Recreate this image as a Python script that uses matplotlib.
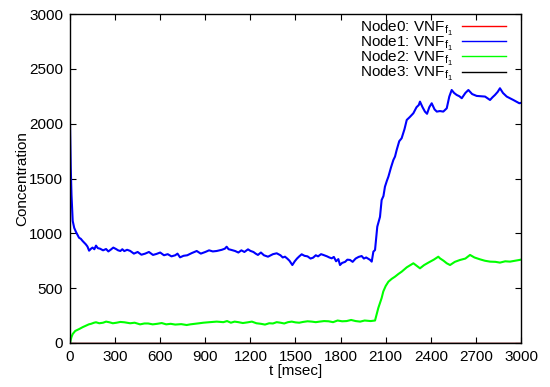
import matplotlib
matplotlib.use("Agg")
import matplotlib.pyplot as plt

plt.rcParams['font.family'] = ['Liberation Sans', 'DejaVu Sans']
plt.rcParams['mathtext.fontset'] = 'custom'
plt.rcParams['mathtext.rm'] = 'Liberation Sans'
plt.rcParams['mathtext.it'] = 'Liberation Sans'

labels = ["Node0: VNF$_{\\mathrm{f}_1}$", "Node1: VNF$_{\\mathrm{f}_1}$",
          "Node2: VNF$_{\\mathrm{f}_1}$", "Node3: VNF$_{\\mathrm{f}_1}$"]
colors = ["#ff0000", "#0000ff", "#00ff00", "#000000"]

t_blue = [0, 5, 10, 18, 28, 40, 50, 60, 72, 84, 95, 105, 116, 127, 140, 150, 162, 173, 185, 200, 220,
          240, 255, 270, 288, 306, 320, 335, 348, 361,
          380, 400, 425, 450, 475, 500, 525, 552, 575, 600, 625, 650, 675, 700, 715, 732, 755, 780,
          810, 843, 870, 900, 925, 950, 976, 1010, 1030, 1042, 1055, 1070,
          1098, 1120, 1140, 1160, 1184, 1200, 1220, 1235, 1250, 1270, 1290, 1317, 1335, 1350, 1375, 1400,
          1415, 1430, 1445, 1460, 1479, 1495, 1510,
          1525, 1541, 1560, 1580, 1600, 1617, 1635, 1650, 1670, 1685, 1710, 1725, 1741, 1755, 1770, 1785,
          1796, 1810, 1830, 1845, 1863, 1880, 1900, 1920, 1940, 1955, 1970,
          1996, 2007, 2018, 2029, 2044, 2062, 2073, 2085, 2095, 2108, 2118, 2135, 2151, 2162, 2173, 2190,
          2206, 2225, 2240, 2260, 2284, 2305, 2320, 2328, 2345, 2361, 2375, 2390, 2406, 2425, 2440, 2461,
          2483, 2506, 2523, 2539, 2555, 2572, 2590, 2606, 2630, 2650, 2675, 2705, 2730, 2761,
          2794, 2810, 2827, 2845, 2860, 2880, 2905, 2930, 2949, 2970, 2989, 3000]
v_blue = [2000, 1600, 1350, 1113, 1050, 1012, 985, 960, 950, 930, 915, 900, 880, 842, 860, 870, 855, 888,
          865, 860, 845, 857, 835, 850, 870, 857, 845, 839, 855, 838,
          850, 840, 815, 830, 805, 815, 830, 803, 812, 825, 800, 810, 790, 800, 815, 781, 795, 800,
          820, 839, 815, 830, 845, 835, 839, 850, 860, 878, 855, 850,
          839, 825, 845, 830, 854, 840, 830, 815, 803, 825, 800, 787, 800, 810, 818, 800,
          780, 787, 770, 750, 711, 745, 770,
          790, 809, 795, 790, 770, 778, 800, 790, 810, 803, 790, 780, 772, 785, 745, 765,
          711, 730, 740, 760, 757, 740, 770, 785, 793, 770, 780,
          758, 742, 833, 848, 1061, 1150, 1304, 1340, 1425, 1480, 1517, 1600, 1669, 1700, 1760, 1840,
          1867, 1950, 2034, 2060, 2095, 2150, 2170, 2201, 2150, 2110, 2090, 2150, 2186, 2130, 2110, 2115,
          2110, 2140, 2247, 2307, 2280, 2262, 2250, 2232, 2280, 2307, 2270, 2253, 2250, 2247,
          2216, 2240, 2262, 2290, 2323, 2280, 2247, 2230, 2216, 2200, 2186, 2190]

t_green = [0, 5, 10, 18, 35, 62, 85, 106, 125, 140, 160, 173, 195, 220, 240, 262, 285, 310, 335, 361,
           400, 430, 466, 495, 520, 550, 580, 610, 640, 670, 700,
           740, 776, 800, 830, 860, 887, 930, 976, 1020, 1045, 1070, 1095, 1120, 1150, 1180, 1210, 1240,
           1270, 1297, 1325, 1350, 1375, 1400, 1425, 1450, 1475, 1500, 1525, 1550, 1580,
           1608, 1635, 1660, 1690, 1720, 1750, 1780, 1810, 1840, 1870, 1900, 1930, 1960, 2000, 2029,
           2051, 2073, 2084, 2100, 2118, 2140,
           2162, 2185, 2206, 2240, 2284, 2310, 2328, 2355, 2384, 2420, 2450, 2461, 2485, 2506, 2528,
           2560, 2594, 2630, 2661, 2690, 2727, 2760, 2794, 2830, 2860, 2895, 2927, 2960, 2989, 3000]
v_green = [0, 30, 55, 82, 110, 128, 145, 158, 170, 175, 185, 189, 180, 185, 195, 189, 180, 185, 192, 189,
           180, 185, 170, 178, 178, 170, 175, 182, 170, 175, 168,
           172, 164, 170, 175, 180, 185, 190, 195, 190, 200, 185, 195, 190, 182, 188, 195, 180,
           175, 168, 180, 178, 190, 185, 178, 190, 195, 188, 185, 192, 198,
           195, 190, 195, 200, 198, 190, 205, 198, 200, 210, 200, 195, 205, 200, 205,
           320, 410, 470, 520, 559, 585,
           605, 630, 650, 690, 727, 700, 681, 710, 733, 760, 787, 772, 750, 727, 711,
           740, 757, 770, 803, 780, 763, 750, 742, 740, 733, 745, 742, 750, 757, 760]

t_zero = [0, 3000]
v_zero = [0, 0]

fig = plt.figure(figsize=(5.5, 3.87), dpi=100)
ax = fig.add_axes([70/550, 44/387, 451/550, 329/387])

ax.plot(t_zero, v_zero, color=colors[0], lw=1.0, label=labels[0])
ax.plot(t_blue, v_blue, color=colors[1], lw=1.5, label=labels[1])
ax.plot(t_green, v_green, color=colors[2], lw=1.5, label=labels[2])
ax.plot(t_zero, v_zero, color=colors[3], lw=1.0, label=labels[3])

ax.set_xlim(0, 3000)
ax.set_ylim(0, 3000)
ax.set_xticks(range(0, 3001, 300))
ax.set_yticks(range(0, 3001, 500))
ax.tick_params(direction='in', top=True, right=True, length=4, width=0.8,
               labelsize=11, pad=5)
for s in ax.spines.values():
    s.set_linewidth(1.0)
ax.set_xlabel("t [msec]", fontsize=11, labelpad=0)
ax.set_ylabel("Concentration", fontsize=11, labelpad=0)

leg = ax.legend(loc='upper right', bbox_to_anchor=(0.9667, 0.986), frameon=False,
                markerfirst=False, fontsize=11, labelspacing=-0.26, handlelength=2.9,
                handletextpad=0.6, borderaxespad=0.0, borderpad=0.0)
for line in leg.get_lines():
    line.set_linewidth(1.0)

fig.savefig("out.png", dpi=100)
